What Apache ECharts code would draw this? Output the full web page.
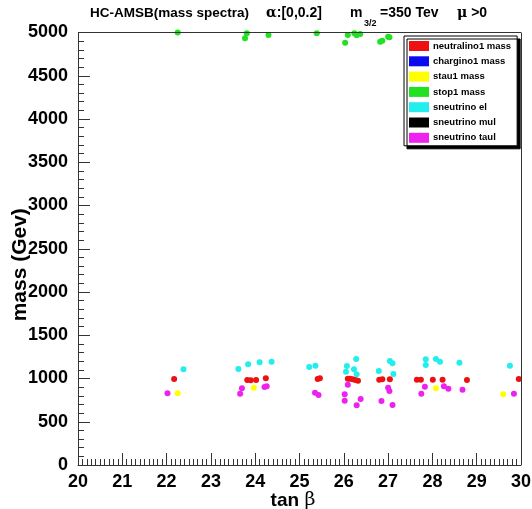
<!DOCTYPE html>
<html>
<head>
<meta charset="utf-8">
<script src="https://cdn.jsdelivr.net/npm/echarts@6/dist/echarts.min.js"></script>
<style>html,body{margin:0;padding:0;background:#fff}#c{width:532px;height:509px}</style>
</head>
<body>
<div id="c"></div>
<script>
var xTicks = [20, 21, 22, 23, 24, 25, 26, 27, 28, 29, 30];
var yTicks = [0, 500, 1000, 1500, 2000, 2500, 3000, 3500, 4000, 4500, 5000];
var seriesNames = ['neutralino1 mass', 'chargino1 mass', 'stau1 mass', 'stop1 mass', 'sneutrino el', 'sneutrino mul', 'sneutrino taul'];

var neutralinoTan = [22.17, 23.82, 23.90, 24.02, 24.24, 25.41, 25.46, 26.09, 26.14, 26.20, 26.26, 26.32, 26.80, 26.87, 27.04, 27.65, 27.74, 28.01, 28.23, 28.78, 29.95];
var neutralinoMass = [994, 983, 979, 983, 1002, 994, 1002, 998, 998, 991, 983, 975, 986, 991, 991, 986, 986, 986, 986, 983, 994];
var charginoTan = [];
var charginoMass = [];
var stauTan = [22.25, 23.97, 28.08, 29.60];
var stauMass = [829, 894, 887, 817];
var stopTan = [22.25, 23.81, 23.77, 24.30, 25.39, 26.03, 26.09, 26.24, 26.29, 26.37, 26.82, 26.87, 27.00, 27.03];
var stopMass = [5000, 4991, 4933, 4971, 4991, 4882, 4971, 4991, 4968, 4983, 4894, 4905, 4951, 4945];
var sneuElTan = [22.38, 23.62, 23.84, 24.10, 24.37, 25.22, 25.36, 26.28, 26.07, 26.05, 26.23, 26.29, 26.79, 27.04, 27.10, 27.12, 27.85, 27.85, 28.08, 28.17, 28.61, 29.75];
var sneuElMass = [1106, 1110, 1164, 1187, 1194, 1133, 1148, 1225, 1145, 1079, 1106, 1049, 1087, 1202, 1176, 1052, 1222, 1156, 1225, 1194, 1183, 1148];
var sneuMuTan = [];
var sneuMuMass = [];
var sneuTauTan = [22.02, 23.70, 23.66, 24.21, 24.26, 25.35, 25.43, 26.09, 26.02, 26.02, 26.38, 26.29, 27.00, 27.03, 26.85, 27.10, 27.83, 27.75, 28.26, 28.36, 28.68, 29.84];
var sneuTauMass = [829, 887, 824, 902, 910, 836, 809, 928, 817, 743, 763, 690, 894, 855, 740, 694, 905, 824, 910, 882, 871, 824];

var colors = ['#ee1111', '#0a0aee', '#ffff00', '#22e022', '#22eeee', '#000000', '#ee22ee'];
var xs = [neutralinoTan, charginoTan, stauTan, stopTan, sneuElTan, sneuMuTan, sneuTauTan];
var ys = [neutralinoMass, charginoMass, stauMass, stopMass, sneuElMass, sneuMuMass, sneuTauMass];

function zip(a, b) { return a.map(function (v, i) { return [v, b[i]]; }); }

var F = 'Liberation Sans, Arial, Helvetica, sans-serif';
var G = 'DejaVu Serif, serif';
var series = seriesNames.map(function (n, i) {
  return {
    name: n, type: 'scatter', symbol: 'circle', symbolSize: 6, clip: false,
    itemStyle: { color: colors[i], opacity: 1 },
    data: zip(xs[i], ys[i])
  };
});
// frame top/right lines
series.push({
  type: 'line', silent: true, symbol: 'none', data: [],
  markLine: {
    silent: true, symbol: 'none', label: { show: false },
    lineStyle: { color: '#333', width: 1, type: 'solid' },
    data: [
      [{ coord: [xTicks[0], yTicks[yTicks.length - 1]] }, { coord: [xTicks[xTicks.length - 1], yTicks[yTicks.length - 1]] }],
      [{ coord: [xTicks[xTicks.length - 1], yTicks[0]] }, { coord: [xTicks[xTicks.length - 1], yTicks[yTicks.length - 1]] }]
    ]
  }
});

function bt(size) { return { fontFamily: F, fontWeight: 'bold', fontSize: size, color: '#000' }; }

var chart = echarts.init(document.getElementById('c'), null, { renderer: 'canvas' });
chart.setOption({
  animation: false,
  backgroundColor: '#fff',
  title: [
    { text: 'HC-AMSB(mass spectra)', left: 90, top: 6, padding: 0, textStyle: bt(13.5) },
    { text: '{g|α}{b|:[0,0.2]}', left: 266, top: 6, padding: 0,
      textStyle: { rich: { g: { fontFamily: G, fontSize: 14, color: '#000' }, b: bt(14) } } },
    { text: 'm', left: 350, top: 6, padding: 0, textStyle: bt(14) },
    { text: '3/2', left: 364, top: 19, padding: 0, textStyle: bt(9) },
    { text: '=350 Tev', left: 380, top: 6, padding: 0, textStyle: bt(14) },
    { text: '{g|μ}{b| >0}', left: 457, top: 6, padding: 0,
      textStyle: { rich: { g: { fontFamily: G, fontSize: 14, color: '#000' }, b: bt(14) } } }
  ],
  legend: {
    orient: 'vertical', left: 404, top: 36,
    data: seriesNames,
    icon: 'rect', itemWidth: 20, itemHeight: 10, itemGap: 5.3,
    padding: [5, 6, 3, 5],
    backgroundColor: '#fff', borderColor: '#000', borderWidth: 1,
    shadowColor: '#000', shadowBlur: 0, shadowOffsetX: 3, shadowOffsetY: 3,
    textStyle: { fontFamily: F, fontWeight: 'bold', fontSize: 9.5, color: '#000', padding: [0, 0, 0, -1] }
  },
  grid: { left: 78, right: 11, top: 32.5, bottom: 44, containLabel: false, outerBoundsMode: 'none' },
  xAxis: {
    type: 'value', min: xTicks[0], max: xTicks[xTicks.length - 1], interval: 1,
    name: '{b|tan }{g|β}{p|}', nameLocation: 'middle', nameGap: 26, nameMoveOverlap: false,
    nameTextStyle: { rich: {
      b: bt(19),
      g: { fontFamily: G, fontSize: 19, color: '#000' },
      p: { width: 13, fontSize: 19 }
    } },
    axisLine: { lineStyle: { color: '#333', width: 1 } },
    axisTick: { inside: true, length: 12, lineStyle: { color: '#333' } },
    minorTick: { show: true, splitNumber: 10, length: 6, lineStyle: { color: '#333' } },
    splitLine: { show: false },
    axisLabel: { margin: 8, fontFamily: F, fontWeight: 'bold', fontSize: 18, color: '#000' }
  },
  yAxis: {
    type: 'value', min: yTicks[0], max: yTicks[yTicks.length - 1], interval: 500,
    name: 'mass (Gev)', nameLocation: 'middle', nameGap: 47, nameRotate: 90, nameMoveOverlap: false,
    nameTextStyle: { fontFamily: F, fontWeight: 'bold', fontSize: 21, color: '#000', padding: [0, 32, 0, 0] },
    axisLine: { show: true, lineStyle: { color: '#333', width: 1 } },
    axisTick: { inside: true, length: 12, lineStyle: { color: '#333' } },
    minorTick: { show: true, splitNumber: 5, length: 6, lineStyle: { color: '#333' } },
    splitLine: { show: false },
    axisLabel: { margin: 10, fontFamily: F, fontWeight: 'bold', fontSize: 18, color: '#000',
      formatter: function (v) { return String(v); } }
  },
  series: series
});
</script>
</body>
</html>
